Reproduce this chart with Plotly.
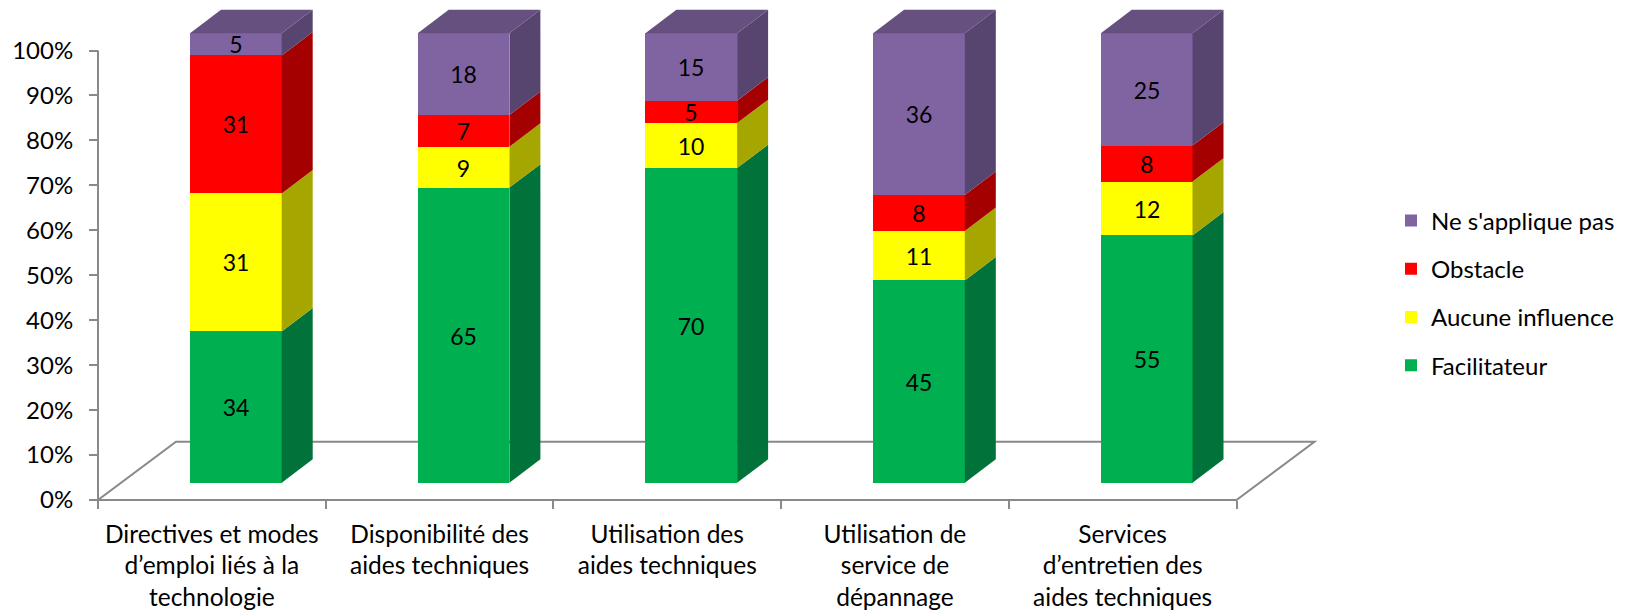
import plotly.graph_objects as go

# ---- data -------------------------------------------------------------
categories = [
    "Directives et modes<br>d’emploi liés à la<br>technologie",
    "Disponibilité des<br>aides techniques",
    "Utilisation des<br>aides techniques",
    "Utilisation de<br>service de<br>dépannage",
    "Services<br>d’entretien des<br>aides techniques",
]
facilitateur = [34, 65, 70, 45, 55]
aucune_influence = [31, 9, 10, 11, 12]
obstacle = [31, 7, 5, 8, 8]
ne_s_applique_pas = [5, 18, 15, 36, 25]

series_names = ["Facilitateur", "Aucune influence", "Obstacle", "Ne s'applique pas"]
series_values = [facilitateur, aucune_influence, obstacle, ne_s_applique_pas]
front_colors = ["#00B050", "#FFFF00", "#FF0000", "#8064A2"]
side_colors = ["#00723A", "#A6A600", "#A50000", "#574570"]
top_colors = ["#008A3E", "#C8C800", "#C40000", "#65507F"]

pct_ticks = list(range(0, 101, 10))
pct_labels = [f"{v}%" for v in pct_ticks]

# ---- page / projection geometry ---------------------------------------
W, H = 1636, 614
M_L, M_R, M_T, M_B = 0, 0, 0, 104
plot_w, plot_h = W - M_L - M_R, H - M_T - M_B
axis_left_px = 98            # pixel column of the value axis
slot_px = 227.7              # width of one category slot
unit_px = 4.495              # pixels per percentage point
y_floor_px = 500             # pixel row of 0 %

x_lo = -0.5 - (axis_left_px - M_L) / slot_px
x_hi = x_lo + plot_w / slot_px
y_lo = -(M_T + plot_h - y_floor_px) / unit_px
y_hi = y_lo + plot_h / unit_px

def dx(px):
    return px / slot_px

def dy(px):
    return px / unit_px

floor_depth = (dx(78), dy(58.3))
bar_shift = (dx(24), dy(17.3))
bar_depth = (dx(31), dy(23.4))
bar_w = dx(91.7)

n = len(categories)
totals = [sum(s[i] for s in series_values) for i in range(n)]

fig = go.Figure()

# front faces, stacked to 100 %
cum = [0.0] * n
stack_bounds = []
for k, (name, vals, col) in enumerate(zip(series_names, series_values, front_colors)):
    heights = [v / t * 100 for v, t in zip(vals, totals)]
    bases = [c + bar_shift[1] for c in cum]
    fig.add_trace(go.Bar(
        x=[i + bar_shift[0] for i in range(n)],
        y=heights,
        base=bases,
        width=bar_w,
        name=name,
        legendgroup=name,
        legendrank=100 - k,
        marker=dict(color=col, line=dict(width=0)),
        text=[str(v) for v in vals],
        textposition="inside",
        insidetextanchor="middle",
        textangle=0,
        textfont=dict(color="black", size=23),
        hovertemplate="%{text}<extra>" + name + "</extra>",
    ))
    stack_bounds.append([(c, c + h) for c, h in zip(cum, heights)])
    cum = [c + h for c, h in zip(cum, heights)]

# side faces and the top face of each column
for k, (name, side, top) in enumerate(zip(series_names, side_colors, top_colors)):
    for i in range(n):
        y0, y1 = stack_bounds[k][i]
        y0 += bar_shift[1]
        y1 += bar_shift[1]
        xr = i + bar_shift[0] + bar_w / 2
        xl = i + bar_shift[0] - bar_w / 2
        fig.add_trace(go.Scatter(
            x=[xr, xr + bar_depth[0], xr + bar_depth[0], xr, xr],
            y=[y0, y0 + bar_depth[1], y1 + bar_depth[1], y1, y0],
            mode="lines", fill="toself", fillcolor=side,
            line=dict(width=0, color=side),
            legendgroup=name, showlegend=False, hoverinfo="skip",
        ))
        if k == len(series_names) - 1:
            fig.add_trace(go.Scatter(
                x=[xl, xl + bar_depth[0], xr + bar_depth[0], xr, xl],
                y=[y1, y1 + bar_depth[1], y1 + bar_depth[1], y1, y1],
                mode="lines", fill="toself", fillcolor=top,
                line=dict(width=0, color=top),
                legendgroup=name, showlegend=False, hoverinfo="skip",
            ))

# floor outline and value-axis line (beneath the columns)
axis_col = "#898989"
fx0, fx1 = -0.5, n - 0.5
floor_path = (
    f"M{fx0},0 L{fx1},0 L{fx1 + floor_depth[0]},{floor_depth[1]} "
    f"L{fx0 + floor_depth[0]},{floor_depth[1]} Z"
)
shapes = [
    dict(type="path", path=floor_path, xref="x", yref="y", layer="below",
         line=dict(color=axis_col, width=2), fillcolor="white"),
    dict(type="line", x0=fx0, x1=fx0, y0=0, y1=100, xref="x", yref="y",
         layer="below", line=dict(color=axis_col, width=2)),
]

font_family = "Lato, 'Open Sans', sans-serif"

fig.update_layout(
    width=W, height=H,
    margin=dict(l=M_L, r=M_R, t=M_T, b=M_B, pad=0),
    paper_bgcolor="white", plot_bgcolor="white",
    barmode="overlay",
    bargap=0,
    font=dict(family=font_family, size=22, color="black"),
    shapes=shapes,
    uniformtext=dict(minsize=23, mode="show"),
    xaxis=dict(
        range=[x_lo, x_hi],
        anchor="free",
        position=(M_T + plot_h - y_floor_px) / plot_h,
        tickmode="array",
        tickvals=list(range(n)),
        ticktext=categories,
        ticks="",
        ticklabelstandoff=17,
        showline=False, showgrid=False, zeroline=False,
        tickfont=dict(size=24.5, color="black"),
        minor=dict(
            tickmode="array",
            tickvals=[i - 0.5 for i in range(n + 1)],
            ticks="outside", ticklen=8, tickwidth=2, tickcolor=axis_col,
            showgrid=False,
        ),
        fixedrange=True,
    ),
    yaxis=dict(
        range=[y_lo, y_hi],
        anchor="free",
        position=(axis_left_px - M_L) / plot_w,
        tickmode="array",
        tickvals=pct_ticks,
        ticktext=pct_labels,
        ticks="outside", ticklen=9, tickwidth=2, tickcolor=axis_col,
        ticklabelstandoff=11,
        showline=False, showgrid=False, zeroline=False,
        tickfont=dict(size=24, color="black"),
        fixedrange=True,
    ),
    legend=dict(
        x=1391 / W, xanchor="left",
        y=(M_T + plot_h - 293) / plot_h, yanchor="middle",
        traceorder="grouped",
        tracegroupgap=14,
        font=dict(size=24, color="black"),
        bgcolor="rgba(0,0,0,0)",
    ),
    showlegend=True,
)

fig.write_html("out.html")
